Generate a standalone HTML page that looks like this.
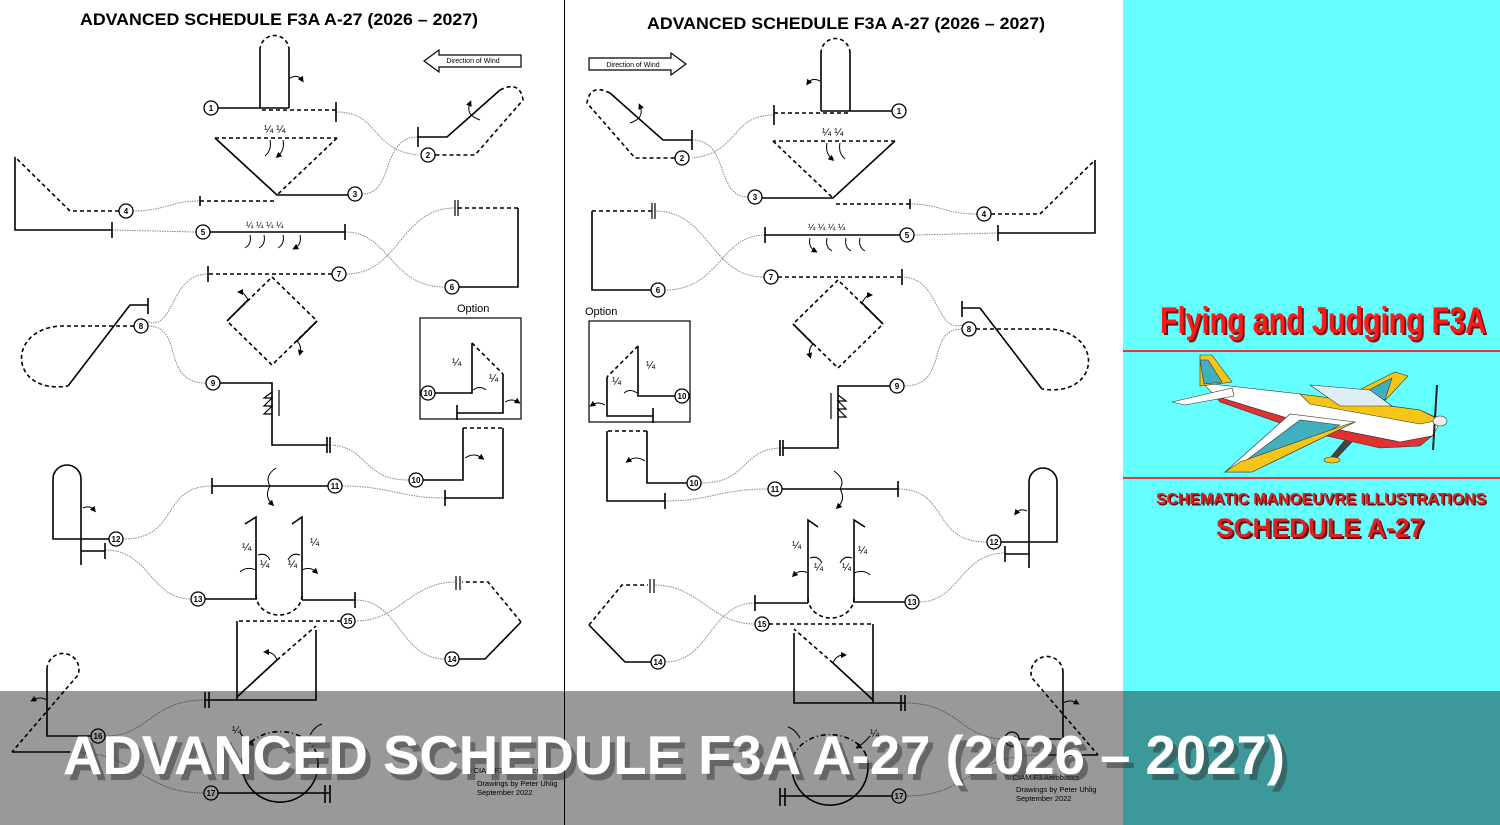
<!DOCTYPE html>
<html><head><meta charset="utf-8">
<style>
html,body{margin:0;padding:0;width:1500px;height:825px;overflow:hidden;background:#fff}
svg{display:block}
</style></head>
<body>
<svg width="1500" height="825" viewBox="0 0 1500 825" xmlns="http://www.w3.org/2000/svg" font-family="Liberation Sans, Arial, sans-serif">
<defs>
<marker id="ah" markerWidth="6" markerHeight="6" refX="3" refY="3" orient="auto"><path d="M0,0L6,3L0,6z" fill="#000"/></marker>
<g id="L" fill="none" stroke="#000" stroke-width="1.6">
  <g stroke="#888" stroke-width="1" stroke-dasharray="1.5,1">
    <path d="M336,112 C380,112 370,150 418,155"/>
    <path d="M362,194 C395,194 380,137 418,137"/>
    <path d="M133,211 C165,211 170,201 200,201"/>
    <path d="M112,230 L196,232"/>
    <path d="M345,232 C390,232 390,287 445,287"/>
    <path d="M346,274 C400,274 400,208 455,208"/>
    <path d="M148,322 C175,330 170,274 208,274"/>
    <path d="M148,326 C185,326 160,383 206,383"/>
    <path d="M327,445 C370,445 360,480 409,480"/>
    <path d="M342,486 C390,486 400,498 445,498"/>
    <path d="M123,539 C180,539 160,486 212,486"/>
    <path d="M105,550 C150,550 150,599 191,599"/>
    <path d="M355,600 C400,600 400,659 445,659"/>
    <path d="M355,621 C400,621 410,582 456,582"/>
    <path d="M105,736 C150,736 150,700 205,700"/>
    <path d="M70,752 C140,752 140,793 204,793"/>
  </g>
  <path d="M218,108H289M260,108V50M289,108V50"/>
  <path d="M260,50 A14.5,14.5 0 0 1 289,50" stroke-dasharray="4,3"/>
  <path d="M262,110H336" stroke-dasharray="4,3"/>
  <path d="M336,102V122"/>
  <path d="M290,78 Q298,74 302,80" marker-end="url(#ah)" stroke-width="1"/>
  <path d="M215,138H337" stroke-dasharray="4,3"/>
  <path d="M215,138L277,195H348"/>
  <path d="M337,138L277,195" stroke-dasharray="4,3"/>
  <path d="M200,201H275" stroke-dasharray="4,3"/><path d="M200,196V206"/>
  <path d="M270,140 Q272,150 265,156M283,140 Q285,150 278,156" stroke-width="1" marker-end="url(#ah)"/>
  <path d="M418,137H447L500,90"/><path d="M418,127V147"/>
  <path d="M500,90 Q520,80 523,100 L475,155H435" stroke-dasharray="4,3"/>
  <path d="M480,120 Q465,115 470,103" stroke-width="1" marker-end="url(#ah)"/>
  <path d="M119,211H70L15,157" stroke-dasharray="4,3"/>
  <path d="M15,157V230H112M112,222V238"/>
  <path d="M210,232H345M345,224V240"/>
  <path d="M250,235 Q252,244 245,248M264,235 Q266,244 259,248M283,235 Q285,244 278,248M300,235 Q302,244 295,248" stroke-width="1" marker-end="url(#ah)"/>
  <path d="M459,287H518V208"/><path d="M518,208H458" stroke-dasharray="4,3"/><path d="M455,200V216M458,200V216" stroke-width="1.2"/>
  <path d="M332,274H208" stroke-dasharray="4,3"/><path d="M208,266V282"/>
  <path d="M272,277L317,321L272,365L227,321Z" stroke-dasharray="4,3"/>
  <path d="M227,321L248,300M317,321L297,341" />
  <path d="M248,300 Q244,292 240,292" stroke-width="1" marker-end="url(#ah)"/>
  <path d="M297,341 Q302,346 300,353" stroke-width="1" marker-end="url(#ah)"/>
  <path d="M134,326H60 C5,330 10,395 68,386" stroke-dasharray="4,3"/>
  <path d="M68,386L130,305H148M148,298V314"/>
  <rect x="420" y="318" width="101" height="101" stroke-width="1.2"/>
  <path d="M435,393H472V343M457,413H503V374M457,405V420"/>
  <path d="M472,343L503,374" stroke-dasharray="4,3"/>
  <path d="M473,390 Q480,385 486,390M505,402 Q512,398 518,402" stroke-width="1" marker-end="url(#ah)"/>
  <path d="M220,383H272V445H327M327,437V453M330,437V453"/>
  <path d="M272,392L264,398H272L264,406H272L264,414H272M279,390V416" stroke-width="1.2"/>
  <path d="M423,480H463V428M503,428V498H445M445,490V506"/>
  <path d="M463,428H503" stroke-dasharray="4,3"/>
  <path d="M465,458 Q474,452 482,458" stroke-width="1" marker-end="url(#ah)"/>
  <path d="M328,486H212M212,478V494"/>
  <path d="M270,486 Q264,476 276,468M270,486 Q264,496 272,504" stroke-width="1" marker-end="url(#ah)"/>
  <path d="M109,539H53V479 A14,14 0 0 1 81,479V565M81,551H105M105,543V559"/>
  <path d="M83,508 Q90,505 94,510" stroke-width="1" marker-end="url(#ah)"/>
  <path d="M205,599H256V517L245,524M302,600V517L292,524M302,600H355M355,592V608"/>
  <path d="M256,595 A23,20 0 0 0 302,595" stroke-dasharray="4,3"/>
  <path d="M258,555 Q266,552 270,560M300,555 Q292,552 288,560M256,570 Q246,566 240,572M302,570 Q310,566 316,572" stroke-width="1" marker-end="url(#ah)"/>
  <path d="M459,659H485L521,622"/>
  <path d="M521,622L488,582H462" stroke-dasharray="4,3"/><path d="M456,576V590M460,576V590" stroke-width="1.2"/>
  <path d="M341,621H237" stroke-dasharray="4,3"/>
  <path d="M237,621V700H316V630M205,700H237M205,692V708M209,692V708"/>
  <path d="M237,697L277,660"/><path d="M277,660L316,626" stroke-dasharray="4,3"/>
  <path d="M277,660 Q274,652 266,652" stroke-width="1" marker-end="url(#ah)"/>
  <path d="M91,736H47V669"/>
  <path d="M47,669 A16,16 0 1 1 78,675 L12,752" stroke-dasharray="4,3"/>
  <path d="M12,752H70"/>
  <path d="M47,700 Q40,696 33,700" stroke-width="1" marker-end="url(#ah)"/>
  <path d="M218,793H330M325,785V803M330,785V803"/>
  <path d="M244,752 A38,38 0 1 0 316,752"/>
  <path d="M244,752 A38,30 0 0 1 316,752" stroke-dasharray="5,3,1,3"/>
  <path d="M310,735 Q315,726 322,724M240,733 Q246,740 252,744" stroke-width="1" marker-end="url(#ah)"/>
</g>
<g id="C" fill="#fff" stroke="#000" stroke-width="1.3">
  <circle cx="211" cy="108" r="7"/><circle cx="428" cy="155" r="7"/><circle cx="355" cy="194" r="7"/>
  <circle cx="126" cy="211" r="7"/><circle cx="203" cy="232" r="7"/><circle cx="452" cy="287" r="7"/>
  <circle cx="339" cy="274" r="7"/><circle cx="141" cy="326" r="7"/><circle cx="213" cy="383" r="7"/>
  <circle cx="416" cy="480" r="7"/><circle cx="428" cy="393" r="7"/><circle cx="335" cy="486" r="7"/>
  <circle cx="116" cy="539" r="7"/><circle cx="198" cy="599" r="7"/><circle cx="452" cy="659" r="7"/>
  <circle cx="348" cy="621" r="7"/><circle cx="98" cy="736" r="7"/><circle cx="211" cy="793" r="7"/>
</g>
</defs>

<rect x="1123" y="0" width="377" height="825" fill="#66ffff"/>
<line x1="564.5" y1="0" x2="564.5" y2="825" stroke="#000" stroke-width="1"/>

<use href="#L"/>
<use href="#C"/>
<use href="#L" transform="translate(1110,3) scale(-1,1)"/>
<use href="#C" transform="translate(1110,3) scale(-1,1)"/>

<g font-weight="bold" font-size="8" text-anchor="middle" fill="#000">
  <text x="211" y="111">1</text><text x="428" y="158">2</text><text x="355" y="197">3</text>
  <text x="126" y="214">4</text><text x="203" y="235">5</text><text x="452" y="290">6</text>
  <text x="339" y="277">7</text><text x="141" y="329">8</text><text x="213" y="386">9</text>
  <text x="416" y="483">10</text><text x="428" y="396">10</text><text x="335" y="489">11</text>
  <text x="116" y="542">12</text><text x="198" y="602">13</text><text x="452" y="662">14</text>
  <text x="348" y="624">15</text><text x="98" y="739">16</text><text x="211" y="796">17</text>
  <text x="899" y="114">1</text><text x="682" y="161">2</text><text x="755" y="200">3</text>
  <text x="984" y="217">4</text><text x="907" y="238">5</text><text x="658" y="293">6</text>
  <text x="771" y="280">7</text><text x="969" y="332">8</text><text x="897" y="389">9</text>
  <text x="694" y="486">10</text><text x="682" y="399">10</text><text x="775" y="492">11</text>
  <text x="994" y="545">12</text><text x="912" y="605">13</text><text x="658" y="665">14</text>
  <text x="762" y="627">15</text><text x="1012" y="742">16</text><text x="899" y="799">17</text>
</g>

<g font-size="11" fill="#000">
  <text x="264" y="133">¼ ¼</text><text x="822" y="136">¼ ¼</text>
  <text x="246" y="228" font-size="9">¼  ¼  ¼  ¼</text><text x="808" y="230" font-size="9">¼  ¼  ¼  ¼</text>
  <text x="452" y="366">¼</text><text x="489" y="382">¼</text>
  <text x="646" y="369">¼</text><text x="612" y="385">¼</text>
  <text x="242" y="551">¼</text><text x="260" y="568">¼</text><text x="310" y="546">¼</text><text x="288" y="568">¼</text>
  <text x="792" y="549">¼</text><text x="814" y="571">¼</text><text x="858" y="554">¼</text><text x="842" y="571">¼</text>
  <text x="232" y="734">¼</text><text x="870" y="737">¼</text>
  <text x="457" y="312" font-size="11">Option</text><text x="585" y="315" font-size="11">Option</text>
</g>

<text x="279" y="25" font-size="16.5" font-weight="bold" text-anchor="middle" textLength="398" lengthAdjust="spacingAndGlyphs">ADVANCED SCHEDULE F3A A-27 (2026 – 2027)</text>
<text x="846" y="29" font-size="16.5" font-weight="bold" text-anchor="middle" textLength="398" lengthAdjust="spacingAndGlyphs">ADVANCED SCHEDULE F3A A-27 (2026 – 2027)</text>
<path d="M521,55H439V50L424,61L439,72V67H521Z" fill="#fff" stroke="#000" stroke-width="1.2"/>
<text x="473" y="63" font-size="7" text-anchor="middle">Direction of Wind</text>
<path d="M589,58H671V53L686,64L671,75V70H589Z" fill="#fff" stroke="#000" stroke-width="1.2"/>
<text x="633" y="67" font-size="7" text-anchor="middle">Direction of Wind</text>
<g font-size="7.5" fill="#000">
  <text x="466" y="773">© CIAM F3 Aerobatics</text><text x="477" y="786">Drawings by Peter Uhlig</text><text x="477" y="795">September 2022</text>
  <text x="1005" y="780">© CIAM F3 Aerobatics</text><text x="1016" y="792">Drawings by Peter Uhlig</text><text x="1016" y="801">September 2022</text>
</g>

<text x="1323" y="333" font-size="37" font-weight="bold" fill="#7a1010" text-anchor="middle" textLength="326" lengthAdjust="spacingAndGlyphs" transform="translate(2,2)">Flying and Judging F3A</text>
<text x="1323" y="333" font-size="37" font-weight="bold" fill="#ff1a1a" text-anchor="middle" textLength="326" lengthAdjust="spacingAndGlyphs">Flying and Judging F3A</text>
<rect x="1123" y="350" width="377" height="2" fill="#e33"/>
<rect x="1123" y="477" width="377" height="2" fill="#e33"/>
<g stroke="#333" stroke-width="0.6">
  <path d="M1200,380L1212,384L1300,394L1420,410L1442,420L1432,436L1400,442L1300,422L1215,396Z" fill="#fff"/>
  <path d="M1300,394L1420,410L1440,420L1420,424L1310,404Z" fill="#f5c518"/>
  <path d="M1215,396L1300,422L1400,442L1432,436L1420,446L1380,448L1300,430L1220,402Z" fill="#e03030"/>
  <path d="M1200,355L1212,355L1232,382L1200,386Z" fill="#f5c518"/>
  <path d="M1200,360L1208,360L1222,382L1204,384Z" fill="#40b0c0"/>
  <path d="M1172,402L1232,388L1234,396L1185,405Z" fill="#fff"/>
  <path d="M1225,472L1290,414L1355,422L1252,472Z" fill="#fff"/>
  <path d="M1240,465L1300,420L1340,425L1260,468Z" fill="#40b0c0"/>
  <path d="M1225,472L1252,472L1355,422L1345,425L1240,462Z" fill="#f5c518"/>
  <path d="M1355,392L1395,372L1408,376L1380,406Z" fill="#f5c518"/>
  <path d="M1365,392L1392,378L1385,400Z" fill="#40b0c0"/>
  <path d="M1310,385L1370,390L1392,406L1340,406Z" fill="#dfeef5"/>
  <path d="M1345,440L1330,458L1335,460L1352,442" fill="#444"/>
  <ellipse cx="1332" cy="460" rx="8" ry="3" fill="#f5c518"/>
  <path d="M1437,385L1433,450" stroke="#222" stroke-width="2"/>
  <ellipse cx="1440" cy="421" rx="7" ry="5" fill="#eee"/>
</g>
<g font-weight="bold" text-anchor="middle">
  <text x="1321" y="504" font-size="16" fill="#5a1010" textLength="330" lengthAdjust="spacingAndGlyphs" transform="translate(1.5,1.5)">SCHEMATIC MANOEUVRE ILLUSTRATIONS</text>
  <text x="1321" y="504" font-size="16" fill="#e02020" textLength="330" lengthAdjust="spacingAndGlyphs">SCHEMATIC MANOEUVRE ILLUSTRATIONS</text>
  <text x="1320" y="537" font-size="27" fill="#5a1010" textLength="208" lengthAdjust="spacingAndGlyphs" transform="translate(2,2)">SCHEDULE A-27</text>
  <text x="1320" y="537" font-size="27" fill="#e02020" textLength="208" lengthAdjust="spacingAndGlyphs">SCHEDULE A-27</text>
</g>

<rect x="0" y="691" width="1500" height="134" fill="#000" fill-opacity="0.4"/>
<text x="65" y="777" font-size="55" font-weight="bold" fill="#333" fill-opacity="0.5" textLength="1222" lengthAdjust="spacingAndGlyphs" transform="translate(3,3)">ADVANCED SCHEDULE F3A A-27 (2026 – 2027)</text>
<text x="63" y="774" font-size="55" font-weight="bold" fill="#fff" textLength="1222" lengthAdjust="spacingAndGlyphs">ADVANCED SCHEDULE F3A A-27 (2026 – 2027)</text>
</svg>
</body></html>
